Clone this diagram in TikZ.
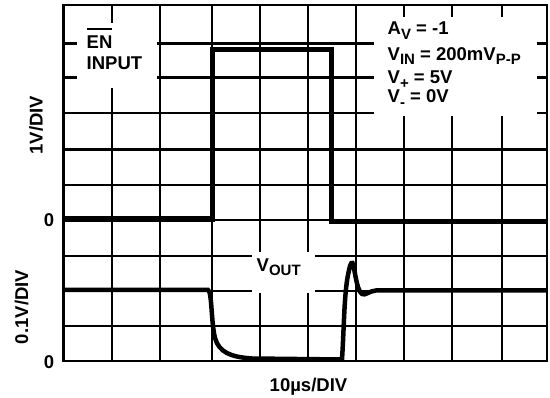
\documentclass[tikz,border=0pt]{standalone}
\usepackage{fontspec}
\setmainfont{Liberation Sans}
\newcommand\lowsub[1]{\raisebox{-4.5pt}{\fontsize{15}{15}\selectfont #1}}
\newcommand\barred[1]{\setbox0\hbox{#1}\rlap{\rule[19pt]{\wd0}{2pt}}\box0}
\begin{document}
\begin{tikzpicture}[x=1pt, y=-1pt]
    \tikzset{
      gridline/.style={line width=2.2pt},
      trace/.style={line width=5pt},
      gap/.style={fill=white},
      lbl/.style={inner sep=0pt, font=\fontsize{18.5}{21}\selectfont\bfseries}
    }
    \useasboundingbox (0,0) rectangle (550,398);

    % scope grid
    \draw[gridline] (63.5,5) rectangle (547,361);
    \foreach \x in {111.7,160,211.7,260,308.3,356,404.3,451.7,501.7}
      \draw[gridline] (\x,5) -- (\x,361);
    \foreach \y in {43.5,77.5,113,149.5,185,220,256,291,326}
      \draw[gridline] (63.5,\y) -- (547,\y);

    % blank areas behind the labels
    \fill[gap] (77,23) rectangle (157,88);
    \fill[gap] (374,17) rectangle (537,116.5);
    \fill[gap] (252,252) rectangle (315,293);

    % traces
    \draw[trace, line width=5.5pt] (63.5,219) -- (212.5,219) -- (212.5,49.5) -- (331.5,49.5) -- (331.5,221.5) -- (547,221.5);
    \draw[trace, line width=4.5pt] (63.5,290) -- (208,290)
      .. controls (212,291) and (211,322) .. (215,338)
      .. controls (219,352) and (230,357) .. (252,358.5)
      -- (342,359.5)
      .. controls (344,330) and (344,295) .. (348,275)
      .. controls (350,265) and (351,262) .. (352.5,263)
      .. controls (354.5,265) and (356,290) .. (362,294)
      .. controls (365,296) and (369,291) .. (376,290.5)
      -- (547,290.5);

    % labels
    \node[lbl, anchor=base west] (en) at (86.5,49) {\barred{EN}};
    \node[lbl, anchor=base west] (input) at (86.5,70) {INPUT};
    \node[lbl, anchor=base west] (gain) at (387.5,35) {A\lowsub{V} = -1};
    \node[lbl, anchor=base west] (vin) at (387.5,60.5) {V\lowsub{IN} = 200mV\lowsub{P-P}};
    \node[lbl, anchor=base west] (vplus) at (387.5,84) {V\lowsub{+} = 5V};
    \node[lbl, anchor=base west] (vminus) at (387.5,103) {V\lowsub{-} = 0V};
    \node[lbl, anchor=base west] (vout) at (256.5,271.5) {V\lowsub{OUT}};
    \node[lbl, anchor=base] (timediv) at (308.5,391.5) {10µs/DIV};
    \node[lbl, rotate=90] (endiv) at (36,125) {1V/DIV};
    \node[lbl, rotate=90] (outdiv) at (21.5,307) {0.1V/DIV};
    \node[lbl] (enzero) at (49,220.5) {0};
    \node[lbl] (outzero) at (49,362.5) {0};
  \end{tikzpicture}
\end{document}
